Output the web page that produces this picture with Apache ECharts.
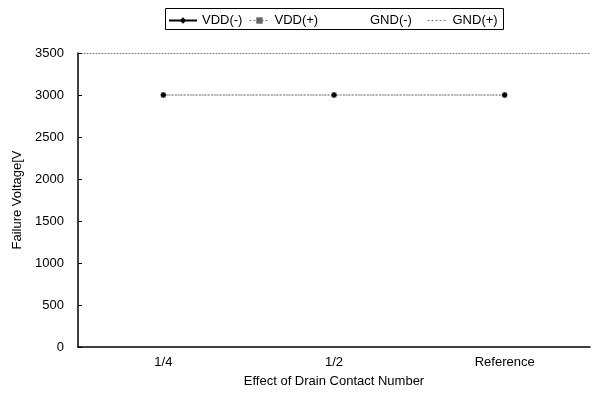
<!DOCTYPE html>
<html><head><meta charset="utf-8">
<script src="https://cdn.jsdelivr.net/npm/echarts@6/dist/echarts.min.js"></script>
<style>html,body{margin:0;padding:0;background:#fff}#c{width:592px;height:396px}</style>
</head><body><div id="c"></div>
<script>
const categories = ['1/4', '1/2', 'Reference'];
const vddMinus = [3000, 3000, 3000];
const vddPlus = [3000, 3000, 3000];
const gndMinus = [3000, 3000, 3000];
const gndPlus = [3000, 3000, 3000];
const yTicks = [0, 500, 1000, 1500, 2000, 2500, 3000, 3500];
const seriesNames = ['VDD(-)', 'VDD(+)', 'GND(-)', 'GND(+)'];

const font = 'Liberation Sans';
const txt = {fontFamily: font, fontSize: 13, color: '#000'};
function leg(name, left, w, extra) {
  return Object.assign({
    top: 14, left: left, itemWidth: w, itemHeight: 8, itemGap: 0, padding: 0,
    textStyle: txt, selectedMode: false, data: [name]
  }, extra || {});
}
const chart = echarts.init(document.getElementById('c'));
chart.setOption({
  animation: false,
  textStyle: {fontFamily: font},
  graphic: [{type: 'rect', shape: {x: 165.5, y: 8.5, width: 338, height: 21},
    style: {fill: 'none', stroke: '#000', lineWidth: 1}}],
  legend: [
    leg(seriesNames[0], 168, 28, {data: [{name: seriesNames[0], lineStyle: {color: '#000', type: 'solid', width: 2}, itemStyle: {color: '#000'}}]}),
    leg(seriesNames[1], 249, 20, {data: [{name: seriesNames[1], itemStyle: {color: '#666'}, lineStyle: {color: '#777', type: [2, 2], width: 1}}]}),
    leg(seriesNames[2], 345, 20, {data: [{name: seriesNames[2], itemStyle: {opacity: 0}, lineStyle: {opacity: 0}}]}),
    leg(seriesNames[3], 427, 20, {data: [{name: seriesNames[3], itemStyle: {opacity: 0}, lineStyle: {color: '#777', type: [2, 2], width: 1}}]})
  ],
  grid: {left: 78, right: 2, top: 53, bottom: 49, show: false},
  xAxis: [{
    type: 'category', data: categories, boundaryGap: true,
    name: 'Effect of Drain Contact Number', nameLocation: 'middle', nameGap: 28,
    nameTextStyle: txt,
    axisLine: {lineStyle: {color: '#000', width: 1.5}},
    axisTick: {inside: true, length: 5, lineStyle: {color: '#000'}},
    axisLabel: Object.assign({margin: 9}, txt),
    splitLine: {show: false}
  }, {
    type: 'category', data: categories, position: 'top', boundaryGap: true,
    axisLine: {lineStyle: {color: '#777', width: 1, type: [1, 2]}},
    axisTick: {show: false}, axisLabel: {show: false}, splitLine: {show: false}
  }],
  yAxis: {
    type: 'value', min: yTicks[0], max: yTicks[yTicks.length - 1], interval: 500,
    name: 'Failure Voltage[V', nameLocation: 'middle', nameGap: 49, nameRotate: 90,
    nameTextStyle: txt,
    axisLine: {show: true, lineStyle: {color: '#000', width: 1.5}},
    axisTick: {show: true, inside: true, length: 4, lineStyle: {color: '#000'}},
    axisLabel: Object.assign({margin: 14, formatter: v => String(v)}, txt),
    splitLine: {show: false}
  },
  series: [
    {name: seriesNames[0], type: 'line', data: vddMinus, symbol: 'diamond', symbolSize: 6, z: 5,
     itemStyle: {color: '#000'}, lineStyle: {color: '#888', width: 1, type: [1, 2]}},
    {name: seriesNames[1], type: 'line', data: vddPlus, symbol: 'rect', symbolSize: 5, z: 4,
     itemStyle: {color: '#555'}, lineStyle: {color: '#888', width: 1, type: [1, 2]}},
    {name: seriesNames[2], type: 'line', data: gndMinus, symbol: 'none', z: 3,
     itemStyle: {color: '#fff'}, lineStyle: {color: '#fff', width: 0, opacity: 0}},
    {name: seriesNames[3], type: 'line', data: gndPlus, symbol: 'none', z: 2,
     itemStyle: {color: '#999'}, lineStyle: {color: '#999', width: 1, type: [2, 2]}}
  ]
});
</script></body></html>
